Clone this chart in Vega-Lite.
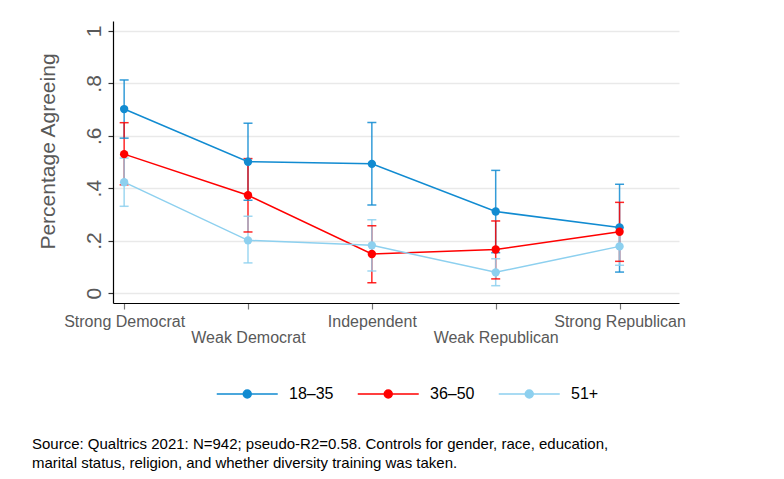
{
  "$schema": "https://vega.github.io/schema/vega-lite/v6.json",
  "autosize": "none",
  "width": 566,
  "height": 282,
  "padding": {"left": 113, "top": 21, "right": 105, "bottom": 176},
  "background": "white",
  "config": {
    "view": {"stroke": null},
    "font": "Liberation Sans"
  },
  "title": {
    "text": ["Source: Qualtrics 2021: N=942; pseudo-R2=0.58. Controls for gender, race, education,", "marital status, religion, and whether diversity training was taken."],
    "orient": "bottom",
    "anchor": "start",
    "frame": "group",
    "dx": -81,
    "offset": 35,
    "font": "Liberation Sans",
    "fontSize": 15,
    "fontWeight": "normal",
    "color": "#000000",
    "lineHeight": 19
  },
  "data": {
    "values": [
      {"party": "Strong Democrat", "idx": 0, "group": "18–35", "est": 0.702, "lo": 0.591, "hi": 0.813},
      {"party": "Weak Democrat", "idx": 1, "group": "18–35", "est": 0.501, "lo": 0.354, "hi": 0.648},
      {"party": "Independent", "idx": 2, "group": "18–35", "est": 0.493, "lo": 0.336, "hi": 0.651},
      {"party": "Weak Republican", "idx": 3, "group": "18–35", "est": 0.311, "lo": 0.154, "hi": 0.468},
      {"party": "Strong Republican", "idx": 4, "group": "18–35", "est": 0.250, "lo": 0.080, "hi": 0.415},
      {"party": "Strong Democrat", "idx": 0, "group": "36–50", "est": 0.530, "lo": 0.413, "hi": 0.650},
      {"party": "Weak Democrat", "idx": 1, "group": "36–50", "est": 0.373, "lo": 0.233, "hi": 0.513},
      {"party": "Independent", "idx": 2, "group": "36–50", "est": 0.149, "lo": 0.039, "hi": 0.257},
      {"party": "Weak Republican", "idx": 3, "group": "36–50", "est": 0.166, "lo": 0.054, "hi": 0.275},
      {"party": "Strong Republican", "idx": 4, "group": "36–50", "est": 0.234, "lo": 0.121, "hi": 0.346},
      {"party": "Strong Democrat", "idx": 0, "group": "51+", "est": 0.423, "lo": 0.331, "hi": 0.515},
      {"party": "Weak Democrat", "idx": 1, "group": "51+", "est": 0.201, "lo": 0.115, "hi": 0.293},
      {"party": "Independent", "idx": 2, "group": "51+", "est": 0.182, "lo": 0.084, "hi": 0.280},
      {"party": "Weak Republican", "idx": 3, "group": "51+", "est": 0.079, "lo": 0.028, "hi": 0.131},
      {"party": "Strong Republican", "idx": 4, "group": "51+", "est": 0.178, "lo": 0.106, "hi": 0.250}
    ]
  },
  "encoding": {
    "x": {
      "field": "idx",
      "type": "quantitative",
      "scale": {"domain": [-0.09, 4.48], "nice": false, "zero": false},
      "axis": {
        "title": null,
        "values": [0, 1, 2, 3, 4],
        "labelExpr": "['Strong Democrat','Weak Democrat','Independent','Weak Republican','Strong Republican'][datum.value]",
        "grid": false,
        "domainColor": "#000000",
        "domainWidth": 1.2,
        "tickColor": "#777777",
        "tickSize": 6,
        "tickWidth": 1.2,
        "labelFont": "Liberation Sans",
        "labelFontSize": 16,
        "labelColor": "#595959",
        "labelBaseline": "top",
        "labelPadding": {"condition": {"test": "datum.value % 2 == 1", "value": 20}, "value": 4},
        "labelOverlap": false,
        "labelFlush": false,
        "labelBound": false
      }
    },
    "color": {
      "field": "group",
      "type": "nominal",
      "scale": {"domain": ["18–35", "36–50", "51+"], "range": ["#118bd1", "#ff0000", "#8dd0ef"]},
      "legend": {
        "title": null,
        "orient": "none",
        "legendX": 103,
        "legendY": 357,
        "direction": "horizontal",
        "padding": 0,
        "columnPadding": 20,
        "symbolType": "M-1,0L3,0M0.738,0A0.262,0.262,0,1,0,1.262,0A0.262,0.262,0,1,0,0.738,0Z",
        "symbolSize": 930,
        "symbolStrokeWidth": 1.5,
        "labelOffset": 41,
        "labelFont": "Liberation Sans",
        "labelFontSize": 16,
        "labelColor": "#000000",
        "encode": {
          "symbols": {
            "update": {
              "fill": {"scale": "color", "field": "value"},
              "stroke": {"scale": "color", "field": "value"},
              "strokeWidth": {"value": 1.5},
              "opacity": {"value": 1}
            }
          }
        }
      }
    }
  },
  "layer": [
    {
      "mark": {"type": "rule", "strokeWidth": 1.5, "opacity": 0.85},
      "encoding": {
        "y": {
          "field": "lo",
          "type": "quantitative",
          "scale": {"domain": [-0.038, 1.038], "nice": false, "zero": false, "padding": 0},
          "axis": {
            "title": "Percentage Agreeing",
            "values": [0, 0.2, 0.4, 0.6, 0.8, 1],
            "labelExpr": "replace(format(datum.value, '.1~f'), '0.', '.')",
            "grid": true,
            "gridColor": "#e9e9e9",
            "gridWidth": 1.6,
            "domainColor": "#000000",
            "domainWidth": 1.2,
            "tickColor": "#333333",
            "tickSize": 5,
            "tickWidth": 1.2,
            "labelAngle": -90,
            "labelAlign": "center",
            "labelBaseline": "alphabetic",
            "labelPadding": 8,
            "labelFont": "Liberation Sans",
            "labelFontSize": 21,
            "labelColor": "#595959",
            "titleFont": "Liberation Sans",
            "titleFontSize": 21,
            "titleFontWeight": "normal",
            "titleColor": "#595959",
            "titleAngle": -90,
            "titleAlign": "center",
            "titleBaseline": "alphabetic",
            "titleX": -59,
            "titleY": 130
          }
        },
        "y2": {"field": "hi"}
      }
    },
    {
      "mark": {"type": "tick", "orient": "horizontal", "size": 9, "thickness": 1.5, "opacity": 0.85},
      "encoding": {"y": {"field": "lo", "type": "quantitative"}}
    },
    {
      "mark": {"type": "tick", "orient": "horizontal", "size": 9, "thickness": 1.5, "opacity": 0.85},
      "encoding": {"y": {"field": "hi", "type": "quantitative"}}
    },
    {
      "mark": {"type": "line", "strokeWidth": 1.5},
      "encoding": {"y": {"field": "est", "type": "quantitative"}}
    },
    {
      "mark": {"type": "point", "filled": true, "size": 70, "opacity": 1, "shape": "circle"},
      "encoding": {"y": {"field": "est", "type": "quantitative"}}
    }
  ]
}
